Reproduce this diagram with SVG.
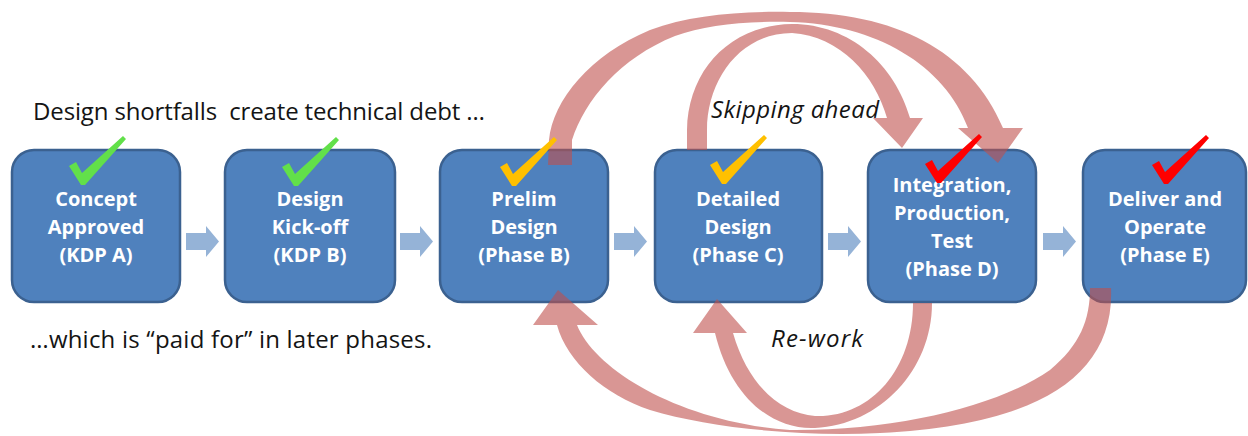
<svg xmlns="http://www.w3.org/2000/svg" width="1248" height="436" viewBox="0 0 1248 436">
  <style>
    .box{fill:#4f81bd;stroke:#3b6190;stroke-width:2.5}
    .lbl{font-family:"Open Sans","Noto Sans",sans-serif;font-weight:700;font-size:20px;fill:#ffffff;text-anchor:middle}
    .note{font-family:"Open Sans","Noto Sans",sans-serif;font-size:24px;fill:#141414}
    .it{font-style:italic}
    .step{fill:#95b3d7}
    .loop{fill:#c0504d;fill-opacity:0.6}
    .ok{fill:#62e04a}
    .warn{fill:#ffc000}
    .bad{fill:#ff0000}
  </style>
  <defs>
    <!-- short block arrow between consecutive phases -->
    <path id="step" d="M0,233H20V226L33,241.5L20,257V250H0Z"/>
    <!-- calligraphic check mark, origin at its lowest point -->
    <path id="tick" d="M-13,-18L-6,-22L0,-11L41,-48L44,-45L3,1L-1,1Z"/>
  </defs>

  <rect width="1248" height="436" fill="#ffffff"/>

  <!-- phase boxes -->
  <g id="node-kdp-a">
    <rect class="box" x="12" y="150" width="168" height="152" rx="22"/>
    <text class="lbl"><tspan x="96" y="206">Concept</tspan><tspan x="96" y="234">Approved</tspan><tspan x="96" y="262">(KDP A)</tspan></text>
  </g>
  <g id="node-kdp-b">
    <rect class="box" x="225" y="150" width="170" height="152" rx="22"/>
    <text class="lbl"><tspan x="310" y="206">Design</tspan><tspan x="310" y="234">Kick-off</tspan><tspan x="310" y="262">(KDP B)</tspan></text>
  </g>
  <g id="node-phase-b">
    <rect class="box" x="440" y="150" width="168" height="152" rx="22"/>
    <text class="lbl"><tspan x="524" y="206">Prelim</tspan><tspan x="524" y="234">Design</tspan><tspan x="524" y="262">(Phase B)</tspan></text>
  </g>
  <g id="node-phase-c">
    <rect class="box" x="655" y="150" width="167" height="152" rx="22"/>
    <text class="lbl"><tspan x="738" y="206">Detailed</tspan><tspan x="738" y="234">Design</tspan><tspan x="738" y="262">(Phase C)</tspan></text>
  </g>
  <g id="node-phase-d">
    <rect class="box" x="868" y="150" width="168" height="152" rx="22"/>
    <text class="lbl"><tspan x="952" y="192">Integration,</tspan><tspan x="952" y="220">Production,</tspan><tspan x="952" y="248">Test</tspan><tspan x="952" y="276">(Phase D)</tspan></text>
  </g>
  <g id="node-phase-e">
    <rect class="box" x="1083" y="150" width="163" height="152" rx="22"/>
    <text class="lbl"><tspan x="1165" y="206">Deliver and</tspan><tspan x="1165" y="234">Operate</tspan><tspan x="1165" y="262">(Phase E)</tspan></text>
  </g>

  <!-- connectors -->
  <g id="connectors">
    <use href="#step" class="step" x="186"/>
    <use href="#step" class="step" x="400"/>
    <use href="#step" class="step" x="614"/>
    <use href="#step" class="step" x="828"/>
    <use href="#step" class="step" x="1043"/>

    <!-- skipping ahead: Phase B to Phase D -->
    <path class="loop" d="M548,165L549,140C553,100 590,55 650,30C690,15 740,11 790,12C895,12 970,50 1003,128L1023,128L998,163L958,128L968,128C945,65 875,24 790,22C745,21 705,25 675,36C620,58 585,100 572,140L572,165Z"/>
    <!-- skipping ahead: Phase C to Phase D -->
    <path class="loop" d="M687,150L687,130C688,70 730,25 792,24C850,24 895,65 910,118L923,118L902,148L873,118L887,118C875,75 840,36 792,33C740,33 707,80 707,130L707,150Z"/>
    <!-- re-work: Phase E back to Phase B -->
    <path class="loop" d="M1111,288C1115,380 1030,426 880,433C800,437 710,428 650,410C605,395 567,362 557,325L533,325L558,290L598,325L577,325C595,370 680,422 790,430C900,431 1000,405 1050,370C1080,345 1090,320 1090,288Z"/>
    <!-- re-work: Phase D back to Phase C -->
    <path class="loop" d="M932,303C932,370 880,425 815,428C770,430 730,395 715,333L693,333L717,299L747,333L733,333C748,385 780,413 815,416C870,418 913,370 913,303Z"/>
  </g>

  <!-- status check marks -->
  <g id="status-marks">
    <use href="#tick" class="ok" x="82" y="184"/>
    <use href="#tick" class="ok" x="295" y="185"/>
    <use href="#tick" class="warn" x="513" y="185"/>
    <use href="#tick" class="warn" x="723" y="183"/>
    <use href="#tick" class="bad" x="938" y="182"/>
    <use href="#tick" class="bad" x="1165" y="183"/>
  </g>

  <!-- annotations -->
  <g id="annotations">
    <text class="note" x="33" y="120" textLength="452" xml:space="preserve">Design shortfalls  create technical debt …</text>
    <text class="note" x="30" y="348" textLength="402">…which is “paid for” in later phases.</text>
    <text class="note it" x="711" y="118" textLength="168">Skipping ahead</text>
    <text class="note it" x="771" y="347" textLength="92">Re-work</text>
  </g>
</svg>
